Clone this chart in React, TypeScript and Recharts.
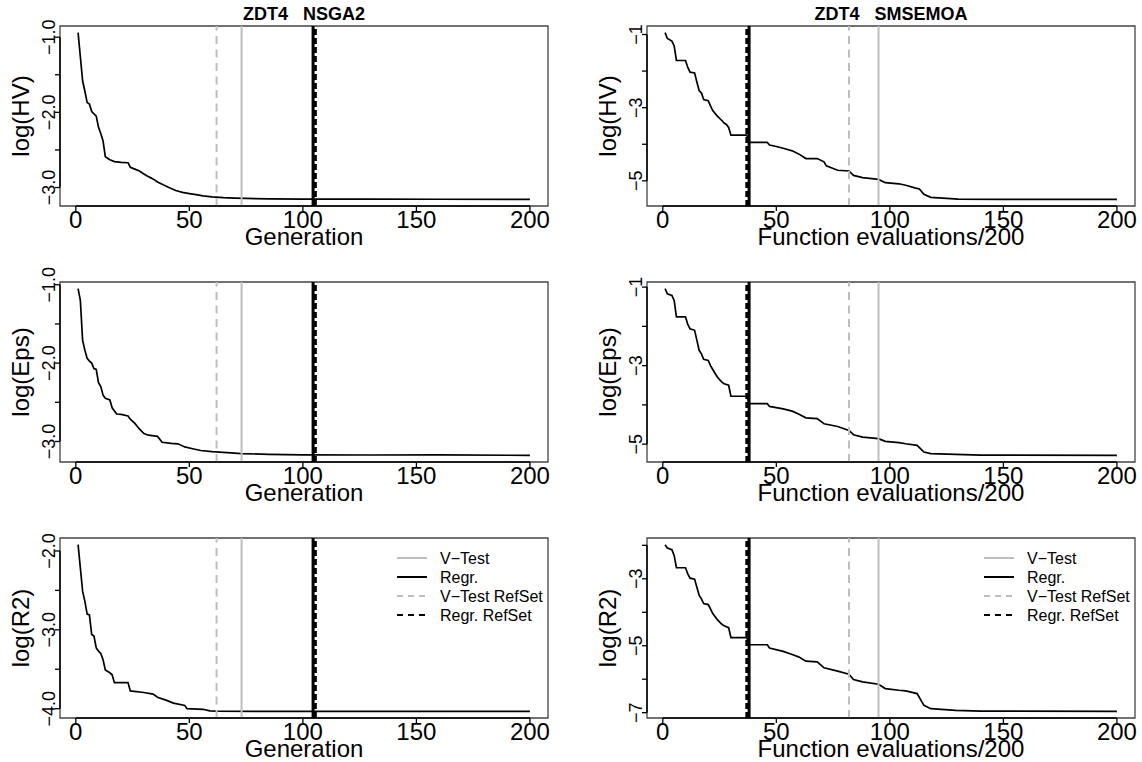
import React from 'react';
import { LineChart, Line, XAxis, YAxis, ReferenceLine, ReferenceArea, Label } from 'recharts';

const FONT = '"Liberation Sans", Arial, Helvetica, sans-serif';
const GRAY = '#bebebe';

// x axis: generations (NSGA2) or function evaluations / 200 (SMSEMOA)
const xTicks = [0, 50, 100, 150, 200];
const xFirst = 1;
const xLast = 200;

// stopping points: [V-Test, Regr., V-Test RefSet, Regr. RefSet]
const stopsNsga2 = [73, 104.5, 62, 105.5];
const stopsSms = [95, 38, 82, 37];

const legendLabels = ['V\u2212Test', 'Regr.', 'V\u2212Test RefSet', 'Regr. RefSet'];

// ZDT4 NSGA2
const hvNsga2: [number, number][] = [
  [1, -0.94], [3, -1.58], [4, -1.72], [5, -1.87], [6, -1.89], [7, -1.99], [8, -2.02], [9, -2.05],
  [10, -2.2], [11, -2.28], [12, -2.38], [13, -2.59], [15, -2.63], [17, -2.655], [20, -2.665], [23, -2.67],
  [24, -2.73], [26, -2.755], [28, -2.78], [30, -2.82], [32, -2.855], [34, -2.885], [36, -2.925], [38, -2.955],
  [41, -3.0], [44, -3.04], [47, -3.065], [50, -3.08], [53, -3.095], [56, -3.11], [60, -3.125], [65, -3.135],
  [70, -3.14], [75, -3.145], [85, -3.15], [100, -3.153], [130, -3.155], [160, -3.156], [200, -3.157],
];
const epsNsga2: [number, number][] = [
  [1, -1.05], [2, -1.2], [3, -1.71], [4, -1.835], [5, -1.94], [6, -1.975], [7, -2.0], [8, -2.07], [9, -2.08],
  [10, -2.25], [11, -2.3], [12, -2.41], [13, -2.45], [15, -2.47], [16, -2.57], [18, -2.65], [20, -2.655],
  [23, -2.675], [24, -2.715], [26, -2.77], [28, -2.84], [30, -2.9], [32, -2.92], [36, -2.935], [38, -3.01],
  [42, -3.025], [45, -3.03], [48, -3.07], [51, -3.09], [55, -3.115], [60, -3.13], [65, -3.14], [73, -3.154],
  [85, -3.165], [100, -3.17], [130, -3.173], [160, -3.172], [200, -3.177],
];
const r2Nsga2: [number, number][] = [
  [1, -1.92], [3, -2.51], [4, -2.64], [5, -2.8], [6, -2.81], [7, -3.06], [8, -3.08], [9, -3.23], [10, -3.27],
  [11, -3.3], [12, -3.38], [13, -3.51], [15, -3.545], [16, -3.57], [17, -3.67], [23, -3.67], [24, -3.775],
  [30, -3.795], [34, -3.815], [36, -3.855], [40, -3.895], [43, -3.93], [48, -3.96], [49, -4.0], [56, -4.008],
  [59, -4.028], [62, -4.032], [80, -4.034], [200, -4.034],
];

// ZDT4 SMSEMOA
const hvSms: [number, number][] = [
  [1, -0.95], [2, -1.11], [4, -1.18], [5, -1.31], [6, -1.71], [10, -1.71], [11, -1.9], [12, -2.03], [14, -2.05],
  [15, -2.3], [16, -2.53], [17, -2.6], [18, -2.78], [20, -2.81], [21, -2.95], [22, -3.08], [24, -3.23],
  [26, -3.35], [27, -3.42], [28, -3.46], [29, -3.54], [30, -3.75], [37, -3.75], [38, -3.95], [46, -3.95],
  [47, -4.02], [50, -4.06], [53, -4.11], [57, -4.18], [60, -4.27], [63, -4.39], [68, -4.39], [71, -4.48],
  [72, -4.59], [77, -4.71], [82, -4.73], [84, -4.85], [88, -4.91], [95, -4.96], [98, -5.05], [104, -5.08],
  [107, -5.12], [111, -5.19], [113, -5.22], [115, -5.37], [118, -5.45], [125, -5.48], [130, -5.5],
  [150, -5.505], [200, -5.505],
];
const epsSms: [number, number][] = [
  [1, -1.04], [2, -1.17], [4, -1.21], [5, -1.34], [6, -1.76], [10, -1.76], [11, -1.95], [12, -2.06], [14, -2.1],
  [15, -2.35], [16, -2.61], [17, -2.7], [18, -2.84], [20, -2.87], [21, -3.0], [22, -3.1], [24, -3.29],
  [26, -3.42], [27, -3.46], [29, -3.5], [30, -3.78], [37, -3.78], [38, -3.97], [46, -3.97], [47, -4.04],
  [53, -4.1], [57, -4.16], [60, -4.24], [63, -4.33], [68, -4.35], [71, -4.48], [77, -4.55], [82, -4.65],
  [84, -4.76], [88, -4.82], [95, -4.86], [98, -4.93], [104, -4.96], [107, -4.99], [112, -5.03], [115, -5.2],
  [118, -5.24], [129, -5.26], [140, -5.28], [200, -5.285],
];
const r2Sms: [number, number][] = [
  [1, -1.98], [2, -2.08], [4, -2.13], [5, -2.3], [6, -2.67], [10, -2.67], [11, -2.85], [12, -2.98], [14, -3.01],
  [15, -3.25], [16, -3.49], [17, -3.6], [18, -3.74], [20, -3.77], [21, -3.9], [22, -4.04], [24, -4.22],
  [26, -4.36], [27, -4.4], [29, -4.46], [30, -4.76], [37, -4.76], [38, -4.97], [46, -4.97], [47, -5.07],
  [53, -5.17], [57, -5.26], [60, -5.34], [63, -5.46], [68, -5.48], [71, -5.66], [77, -5.76], [82, -5.85],
  [84, -6.01], [88, -6.08], [95, -6.15], [98, -6.28], [104, -6.33], [107, -6.35], [112, -6.43], [115, -6.78],
  [118, -6.88], [129, -6.93], [140, -6.955], [200, -6.96],
];

// R style axis range: data range widened by 4% on each side
const pad = (lo: number, hi: number): [number, number] => {
  const r = hi - lo;
  return [lo - 0.04 * r, hi + 0.04 * r];
};

const xDom = pad(xFirst, xLast);

interface PanelProps {
  left: number;
  top: number;
  width: number;
  data: [number, number][];
  yTicks: number[];
  yLabeled: number[];
  digits: number;
  ylab: string;
  xlab: string;
  stops: number[];
  title?: string;
  legend?: boolean;
}

const minus = (s: string) => s.replace('-', '\u2212');

function Panel(props: PanelProps) {
  const { left, top, width, data, yTicks, yLabeled, digits, ylab, xlab, stops, title, legend } = props;
  const rows = data.map(([x, y]) => ({ x, y }));
  const ys = data.map((d) => d[1]);
  const yDom = pad(Math.min(...ys), Math.max(...ys));

  const yTick = (p: any) => {
    const v = p.payload.value;
    if (!yLabeled.some((l) => Math.abs(l - v) < 1e-9)) return <g />;
    return (
      <text x={p.x} y={p.y} transform={`rotate(-90 ${p.x} ${p.y})`} textAnchor="middle"
        fontSize={18} fontFamily={FONT} fill="#000">
        {minus(v.toFixed(digits))}
      </text>
    );
  };

  const xTick = (p: any) => (
    <text x={p.x} y={p.y + 17} textAnchor="middle" fontSize={24} fontFamily={FONT} fill="#000">
      {p.payload.value}
    </text>
  );

  const boxExtras = (p: any) => {
    const vb = p.viewBox;
    return (
      <g>
        {title && (
          <text x={vb.x + vb.width / 2} y={vb.y - 6} textAnchor="middle" fontSize={18} fontWeight="bold"
            fontFamily={FONT} fill="#000" style={{ whiteSpace: 'pre' }} xmlSpace="preserve">
            {title}
          </text>
        )}
        {legend && legendLabels.map((lab, i) => {
          const yy = vb.y + 20 + i * 19;
          const col = i % 2 === 0 ? GRAY : '#000';
          return (
            <g key={lab}>
              <line x1={vb.x + 337} x2={vb.x + 367} y1={yy} y2={yy} stroke={col} strokeWidth={2}
                strokeDasharray={i >= 2 ? '6 5' : undefined} />
              <text x={vb.x + 380} y={yy} dominantBaseline="central" fontSize={16} fontFamily={FONT} fill="#000">
                {lab}
              </text>
            </g>
          );
        })}
      </g>
    );
  };

  return (
    <div style={{ position: 'absolute', left, top }}>
      <LineChart width={width} height={250} margin={{ top: 26, left: 40, right: width - 548, bottom: 24 }}>
        <XAxis dataKey="x" type="number" domain={xDom} ticks={xTicks} interval={0} allowDataOverflow
          axisLine={false} stroke="#000" tickLine={{ stroke: '#000', strokeWidth: 1.3 }} tickSize={5}
          tickMargin={0} height={20} tick={xTick}>
          <Label content={(p: any) => (
            <text x={p.viewBox.x + p.viewBox.width / 2} y={p.viewBox.y + 39} textAnchor="middle"
              fontSize={24} fontFamily={FONT} fill="#000">{xlab}</text>
          )} />
        </XAxis>
        <YAxis type="number" domain={yDom} ticks={yTicks} interval={0} allowDataOverflow axisLine={false}
          stroke="#000" tickLine={{ stroke: '#000', strokeWidth: 1.3 }} tickSize={5} tickMargin={0}
          width={20} tick={yTick}>
          <Label content={(p: any) => {
            const cx = p.viewBox.x + p.viewBox.width - 31;
            const cy = p.viewBox.y + p.viewBox.height / 2;
            return (
              <text x={cx} y={cy} transform={`rotate(-90 ${cx} ${cy})`} textAnchor="middle" fontSize={24}
                fontFamily={FONT} fill="#000">{ylab}</text>
            );
          }} />
        </YAxis>
        <Line data={rows} dataKey="y" type="linear" stroke="#000" strokeWidth={1.7} dot={false}
          activeDot={false} isAnimationActive={false} />
        <ReferenceLine x={stops[2]} stroke={GRAY} strokeWidth={2} strokeDasharray="8 5.5" ifOverflow="visible" />
        <ReferenceLine x={stops[0]} stroke={GRAY} strokeWidth={2} ifOverflow="visible" />
        <ReferenceLine x={stops[1]} stroke="#000" strokeWidth={3} ifOverflow="visible" />
        <ReferenceLine x={stops[3]} stroke="#000" strokeWidth={3} strokeDasharray="6 3" ifOverflow="visible" />
        <ReferenceArea x1={xDom[0]} x2={xDom[1]} y1={yDom[0]} y2={yDom[1]} fill="none" fillOpacity={0}
          stroke="#444" strokeWidth={1.3} ifOverflow="visible">
          <Label content={boxExtras} />
        </ReferenceArea>
        <ReferenceLine segment={[{ x: xTicks[0], y: yDom[0] }, { x: xTicks[xTicks.length - 1], y: yDom[0] }]}
          stroke="#000" strokeWidth={1.5} ifOverflow="visible" />
        <ReferenceLine segment={[{ x: xDom[0], y: yTicks[0] }, { x: xDom[0], y: yTicks[yTicks.length - 1] }]}
          stroke="#000" strokeWidth={1.5} ifOverflow="visible" />
      </LineChart>
    </div>
  );
}

export default function App() {
  return (
    <div style={{ position: 'absolute', left: 0, top: 0, width: 1142, height: 762, background: '#fff', overflow: 'hidden' }}>
      <Panel left={0} top={0} width={571} data={hvNsga2} yTicks={[-3, -2.5, -2, -1.5, -1]} yLabeled={[-3, -2, -1]}
        digits={1} ylab="log(HV)" xlab="Generation" stops={stopsNsga2} title={'ZDT4   NSGA2'} />
      <Panel left={587} top={0} width={555} data={hvSms} yTicks={[-5, -4, -3, -2, -1]} yLabeled={[-5, -3, -1]}
        digits={0} ylab="log(HV)" xlab="Function evaluations/200" stops={stopsSms} title={'ZDT4   SMSEMOA'} />
      <Panel left={0} top={256} width={571} data={epsNsga2} yTicks={[-3, -2.5, -2, -1.5, -1]} yLabeled={[-3, -2, -1]}
        digits={1} ylab="log(Eps)" xlab="Generation" stops={stopsNsga2} />
      <Panel left={587} top={256} width={555} data={epsSms} yTicks={[-5, -4, -3, -2, -1]} yLabeled={[-5, -3, -1]}
        digits={0} ylab="log(Eps)" xlab="Function evaluations/200" stops={stopsSms} />
      <Panel left={0} top={512} width={571} data={r2Nsga2} yTicks={[-4, -3.5, -3, -2.5, -2]} yLabeled={[-4, -3, -2]}
        digits={1} ylab="log(R2)" xlab="Generation" stops={stopsNsga2} legend />
      <Panel left={587} top={512} width={555} data={r2Sms} yTicks={[-7, -6, -5, -4, -3, -2]} yLabeled={[-7, -5, -3]}
        digits={0} ylab="log(R2)" xlab="Function evaluations/200" stops={stopsSms} legend />
    </div>
  );
}
